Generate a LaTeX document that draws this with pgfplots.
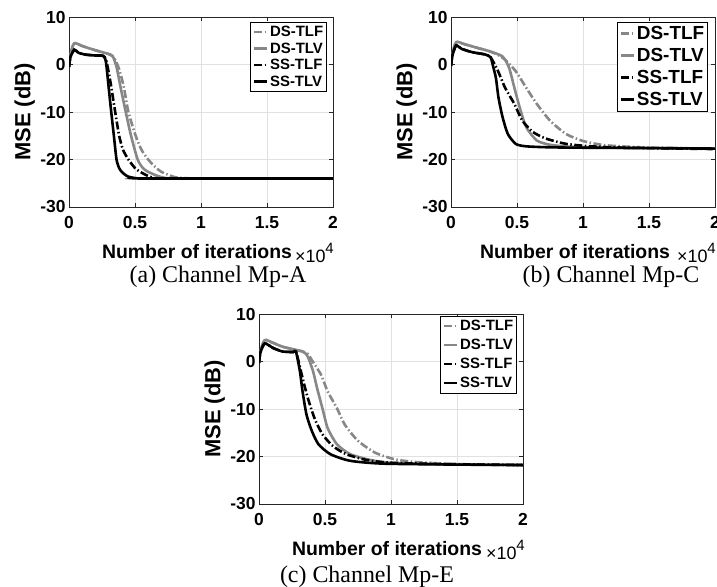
\documentclass[border=0pt]{standalone}
\usepackage{pgfplots}
\pgfplotsset{compat=1.18}
\usepackage{fontspec}
\setmainfont{Liberation Serif}
\setsansfont{Liberation Sans}
\definecolor{grayc}{RGB}{135,135,135}
\definecolor{gridc}{RGB}{225,225,225}
\definecolor{axc}{RGB}{38,38,38}
\newcommand\tickf{\sffamily\bfseries\fontsize{17.5}{19}\selectfont}
\newcommand\labf{\sffamily\bfseries\fontsize{19.5}{22}\selectfont}
\newcommand\ylabf{\sffamily\bfseries\fontsize{22}{24}\selectfont}
\newcommand\legfA{\sffamily\bfseries\fontsize{15}{17}\selectfont}
\newcommand\legfB{\sffamily\bfseries\fontsize{19}{21}\selectfont}
\newcommand\capf{\rmfamily\fontsize{24}{26}\selectfont}
\newcommand\expf{\sffamily\fontsize{18}{20}\selectfont}
\pgfplotsset{
  myax/.style={
    scale only axis, width=264bp, height=190bp,
    xmin=0, xmax=2, ymin=-30, ymax=10,
    xtick={0,0.5,1,1.5,2}, ytick={-30,-20,-10,0,10},
    grid=major, major grid style={draw=gridc, line width=0.6bp},
    axis line style={draw=axc, line width=0.6bp},
    tick style={draw=axc, line width=0.6bp},
    tick align=inside, major tick length=4bp,
    tick label style={font=\tickf},
    /pgf/number format/assume math mode=true,
    xticklabel style={yshift=-6bp},
    xlabel={Number of iterations}, ylabel={MSE (dB)},
    xlabel style={font=\labf, at={(axis description cs:0.5,0)}, anchor=base, yshift=-51bp, xshift=-4bp},
    ylabel style={font=\ylabf, at={(axis description cs:-0.168,0.5)}, anchor=center},
    legend cell align=left,
    legend image code/.code={\draw[##1] (0bp,0bp) -- (13bp,0bp);},
  },
  dstlf/.style={grayc, line width=2.6bp, smooth, tension=0.4, dash pattern=on 8bp off 2.5bp on 1.5bp off 2.5bp},
  dstlv/.style={grayc, line width=2.6bp, smooth, tension=0.4},
  sstlf/.style={black, line width=2.6bp, smooth, tension=0.4, dash pattern=on 8bp off 2.5bp on 1.5bp off 2.5bp},
  sstlv/.style={black, line width=2.6bp, smooth, tension=0.4},
}
\begin{document}
\begin{tikzpicture}
\path[use as bounding box] (0bp,0bp) rectangle (717bp,-587bp);
% (a)
\begin{axis}[myax, at={(69bp,-207bp)}, anchor=south west,
  legend style={at={(1,1)}, anchor=north east, xshift=-6bp, yshift=-5bp, draw=black, line width=0.6bp, fill=white, inner sep=2.5bp, font=\legfA, nodes={inner sep=1bp, text height=11bp, text depth=1.5bp}, row sep=2bp, column sep=0.5bp}]
\addplot[dstlf] coordinates {(0,-0.5) (0.015,2.5) (0.04,4.5) (0.1,3.9) (0.2,3.0) (0.29,2.3) (0.34,1.5) (0.38,-1) (0.415,-4.7) (0.45,-10) (0.505,-15) (0.55,-18) (0.6,-20) (0.65,-21.5) (0.7,-22.6) (0.8,-23.7) (0.9,-23.95) (1.0,-24) (1.5,-24) (2,-24)};
\addplot[dstlv] coordinates {(0,-0.5) (0.015,2.5) (0.04,4.5) (0.1,3.9) (0.2,3.0) (0.29,2.3) (0.33,1.8) (0.36,-0.5) (0.39,-4.7) (0.43,-10) (0.47,-15) (0.52,-20) (0.56,-21.8) (0.6,-22.6) (0.7,-23.7) (0.85,-24) (2,-24)};
\addplot[sstlf] coordinates {(0,-0.5) (0.01,1.5) (0.04,3.1) (0.07,2.5) (0.12,2.1) (0.2,1.9) (0.26,1.8) (0.28,1.0) (0.30,-1.5) (0.32,-4.7) (0.35,-10) (0.38,-15) (0.41,-18) (0.45,-20) (0.5,-21.8) (0.54,-22.6) (0.62,-23.7) (0.75,-24) (2,-24)};
\addplot[sstlv] coordinates {(0,-0.5) (0.01,1.5) (0.04,3.1) (0.07,2.5) (0.12,2.1) (0.2,1.9) (0.26,1.8) (0.28,0.5) (0.30,-4.7) (0.32,-10) (0.34,-15) (0.36,-20) (0.38,-21.8) (0.40,-22.6) (0.44,-23.5) (0.5,-23.9) (0.6,-24) (2,-24)};
\legend{DS-TLF,DS-TLV,SS-TLF,SS-TLV}
\end{axis}
% (b)
\begin{axis}[myax, at={(451bp,-207bp)}, anchor=south west,
  xlabel style={xshift=-4bp},
  legend style={at={(1,1)}, anchor=north east, xshift=-7bp, yshift=-5bp, draw=black, line width=0.6bp, fill=white, inner sep=2.5bp, font=\legfB, nodes={inner sep=1bp, text height=13.5bp, text depth=2bp}, row sep=4.5bp, column sep=0.5bp}]
\addplot[dstlf] coordinates {(0,-0.3) (0.01,2) (0.038,4.7) (0.1,4.3) (0.2,3.5) (0.29,2.8) (0.35,2.1) (0.41,1.0) (0.49,-1.4) (0.57,-4.9) (0.65,-8.3) (0.75,-11.8) (0.87,-14.6) (1.0,-16.1) (1.17,-17) (1.5,-17.5) (2,-17.7)};
\addplot[dstlv] coordinates {(0,-0.3) (0.01,2) (0.038,4.7) (0.1,4.3) (0.2,3.5) (0.29,2.8) (0.39,1.7) (0.44,-0.7) (0.48,-4.9) (0.52,-9) (0.57,-13.2) (0.65,-16) (0.75,-16.9) (0.9,-17.3) (1.2,-17.5) (2,-17.7)};
\addplot[sstlf] coordinates {(0,-0.3) (0.01,1.8) (0.038,4.0) (0.08,3.3) (0.16,2.6) (0.26,2.1) (0.30,1.5) (0.35,-1) (0.41,-4.9) (0.48,-8.3) (0.54,-11.8) (0.62,-14.2) (0.72,-15.6) (0.87,-16.7) (1.05,-17.2) (1.3,-17.5) (2,-17.8)};
\addplot[sstlv] coordinates {(0,-0.3) (0.01,1.8) (0.038,4.0) (0.08,3.3) (0.16,2.6) (0.26,2.1) (0.30,1.5) (0.32,-0.5) (0.34,-2.8) (0.36,-7) (0.39,-11) (0.43,-14.6) (0.49,-16.7) (0.56,-17.2) (0.7,-17.4) (0.92,-17.5) (1.5,-17.6) (2,-17.7)};
\legend{DS-TLF,DS-TLV,SS-TLF,SS-TLV}
\end{axis}
% (c)
\begin{axis}[myax, at={(259bp,-504bp)}, anchor=south west,
  legend style={at={(1,1)}, anchor=north east, xshift=-6bp, yshift=-2bp, draw=black, line width=0.6bp, fill=white, inner sep=2.5bp, font=\legfA, nodes={inner sep=1bp, text height=11bp, text depth=1.5bp}, row sep=4.5bp, column sep=0.5bp}]
\addplot[dstlf] coordinates {(0,-0.3) (0.01,2) (0.043,4.5) (0.1,4.0) (0.18,3.1) (0.33,2.1) (0.37,1.6) (0.40,0.3) (0.47,-2.8) (0.52,-6.3) (0.59,-9.8) (0.65,-13.3) (0.75,-16.7) (0.88,-19.2) (1.03,-20.6) (1.2,-21.2) (1.5,-21.6) (2,-21.8)};
\addplot[dstlv] coordinates {(0,-0.3) (0.01,2) (0.043,4.5) (0.1,4.0) (0.18,3.1) (0.33,2.1) (0.37,1.0) (0.41,-2.1) (0.44,-5.6) (0.48,-9.8) (0.52,-14) (0.59,-17.4) (0.69,-19.5) (0.84,-20.7) (0.99,-21.3) (1.4,-21.6) (2,-21.8)};
\addplot[sstlf] coordinates {(0,-0.3) (0.01,1.8) (0.043,3.8) (0.11,2.8) (0.18,2.1) (0.26,2.0) (0.28,2.1) (0.30,0) (0.33,-3.5) (0.37,-7.7) (0.42,-11.9) (0.48,-15.3) (0.56,-17.8) (0.66,-19.5) (0.81,-20.7) (0.99,-21.3) (1.4,-21.6) (2,-21.8)};
\addplot[sstlv] coordinates {(0,-0.3) (0.01,1.8) (0.043,3.8) (0.11,2.8) (0.18,2.1) (0.26,2.0) (0.28,2.1) (0.31,-2.1) (0.33,-6.3) (0.36,-11.2) (0.40,-14.6) (0.45,-17.4) (0.54,-19.5) (0.69,-20.9) (0.94,-21.5) (1.5,-21.7) (2,-21.8)};
\legend{DS-TLF,DS-TLV,SS-TLF,SS-TLV}
\end{axis}
% exponent labels and captions
\node[anchor=base east, inner sep=0, font=\expf] at (334bp,-262bp) {×10\raisebox{0.5em}{\fontsize{15}{15}\selectfont 4}};
\node[anchor=base east, inner sep=0, font=\expf] at (716bp,-262bp) {×10\raisebox{0.5em}{\fontsize{15}{15}\selectfont 4}};
\node[anchor=base east, inner sep=0, font=\expf] at (525bp,-559bp) {×10\raisebox{0.5em}{\fontsize{15}{15}\selectfont 4}};
\node[anchor=base, inner sep=0, font=\capf] at (218bp,-282bp) {(a) Channel Mp-A};
\node[anchor=base, inner sep=0, font=\capf] at (611bp,-282bp) {(b) Channel Mp-C};
\node[anchor=base, inner sep=0, font=\capf] at (367bp,-582bp) {(c) Channel Mp-E};
\end{tikzpicture}
\end{document}
